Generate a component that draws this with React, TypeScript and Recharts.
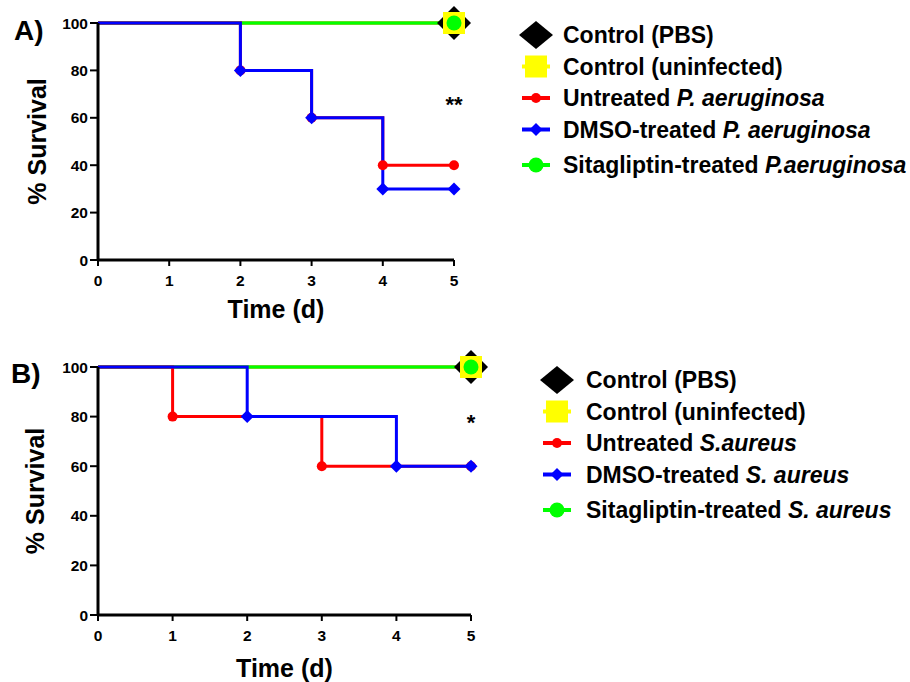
import React from 'react';
import { ComposedChart, Line, XAxis, YAxis, ReferenceDot, Label } from 'recharts';

const FONT = '"Liberation Sans", Arial, sans-serif';

const dayTicks = [0, 1, 2, 3, 4, 5];
const survivalTicks = [0, 20, 40, 60, 80, 100];

// panel A: P. aeruginosa
const paControlDays = [0, 5];
const paControlSurvival = [100, 100];
const paUntreatedDays = [0, 2, 3, 4, 5];
const paUntreatedSurvival = [100, 80, 60, 40, 40];
const paDmsoDays = [0, 2, 3, 4, 5];
const paDmsoSurvival = [100, 80, 60, 30, 30];
const paSitaDays = [0, 5];
const paSitaSurvival = [100, 100];

// panel B: S. aureus
const saControlDays = [0, 5];
const saControlSurvival = [100, 100];
const saUntreatedDays = [0, 1, 3, 5];
const saUntreatedSurvival = [100, 80, 60, 60];
const saDmsoDays = [0, 2, 4, 5];
const saDmsoSurvival = [100, 80, 60, 60];
const saSitaDays = [0, 5];
const saSitaSurvival = [100, 100];

const paLegend = [
  ['Control (PBS)', ''],
  ['Control (uninfected)', ''],
  ['Untreated ', 'P. aeruginosa'],
  ['DMSO-treated ', 'P. aeruginosa'],
  ['Sitagliptin-treated ', 'P.aeruginosa'],
];
const saLegend = [
  ['Control (PBS)', ''],
  ['Control (uninfected)', ''],
  ['Untreated ', 'S.aureus'],
  ['DMSO-treated ', 'S. aureus'],
  ['Sitagliptin-treated ', 'S. aureus'],
];

// significance marks drawn at day 5
const paStars = { label: '**', survival: 68 };
const saStars = { label: '*', survival: 80 };

const kinds = ['pbs', 'uninfected', 'untreated', 'dmso', 'sita'];
const colors: Record<string, string> = {
  pbs: '#000000',
  uninfected: '#FFFF00',
  untreated: '#FF0000',
  dmso: '#0000FF',
  sita: '#00FF00',
};

const toPoints = (days: number[], surv: number[]) =>
  days.map((d, i) => ({ day: d, survival: surv[i] }));

function Marker({ kind, cx, cy, legend }: { kind: string; cx: number; cy: number; legend?: boolean }) {
  const c = colors[kind];
  if (kind === 'pbs') {
    const w = 17;
    const h = legend ? 14 : 17;
    return <polygon points={`${cx},${cy - h} ${cx + w},${cy} ${cx},${cy + h} ${cx - w},${cy}`} fill={c} />;
  }
  if (kind === 'uninfected') {
    return <rect x={cx - 11} y={cy - 11} width={22} height={22} fill={c} />;
  }
  if (kind === 'untreated') return <circle cx={cx} cy={cy} r={5} fill={c} />;
  if (kind === 'dmso') {
    const s = 6.5;
    return <polygon points={`${cx},${cy - s} ${cx + s},${cy} ${cx},${cy + s} ${cx - s},${cy}`} fill={c} />;
  }
  return <circle cx={cx} cy={cy} r={7.5} fill={c} />;
}

const makeDot = (kind: string) => (props: any) => {
  const { cx, cy, index } = props;
  if (index === 0 || cx == null || cy == null) return <g key={`${kind}-${index}`} />;
  return (
    <g key={`${kind}-${index}`}>
      <Marker kind={kind} cx={cx} cy={cy} />
    </g>
  );
};

const XTick = (p: any) => (
  <text x={p.x} y={p.y} dy="0.71em" textAnchor="middle" fontFamily={FONT} fontWeight="bold" fontSize={15.5} fill="#000">
    {p.payload.value}
  </text>
);

const YTick = (p: any) => (
  <text x={p.x} y={p.y} dy="0.36em" textAnchor="end" fontFamily={FONT} fontWeight="bold" fontSize={15.5} fill="#000">
    {p.payload.value}
  </text>
);

interface PanelProps {
  series: Record<string, { day: number; survival: number }[]>;
  width: number;
  height: number;
  margin: { top: number; right: number; left: number; bottom: number };
  xAxisHeight: number;
  xTitleOffset: number;
  yTitleX: number;
  stars: { label: string; survival: number };
}

function SurvivalPanel({ series, width, height, margin, xAxisHeight, xTitleOffset, yTitleX, stars }: PanelProps) {
  const order = ['pbs', 'uninfected', 'sita', 'untreated', 'dmso'];
  return (
    <ComposedChart width={width} height={height} margin={margin}>
      <XAxis
        dataKey="day"
        type="number"
        domain={[0, 5]}
        ticks={dayTicks}
        interval={0}
        height={xAxisHeight}
        tickSize={6}
        tickMargin={9}
        axisLine={{ stroke: '#000', strokeWidth: 3 }}
        tickLine={{ stroke: '#000', strokeWidth: 2 }}
        tick={XTick}
      >
        <Label
          content={(p: any) => {
            const vb = p.viewBox;
            return (
              <text
                x={vb.x + vb.width / 2}
                y={vb.y + xTitleOffset}
                textAnchor="middle"
                fontFamily={FONT}
                fontWeight="bold"
                fontSize={25}
                fill="#000"
              >
                Time (d)
              </text>
            );
          }}
        />
      </XAxis>
      <YAxis
        dataKey="survival"
        type="number"
        domain={[0, 100]}
        ticks={survivalTicks}
        interval={0}
        width={98}
        tickSize={8}
        tickMargin={2}
        axisLine={{ stroke: '#000', strokeWidth: 3 }}
        tickLine={{ stroke: '#000', strokeWidth: 2 }}
        tick={YTick}
      >
        <Label
          content={(p: any) => {
            const vb = p.viewBox;
            const x = vb.x + yTitleX;
            const y = vb.y + vb.height / 2;
            return (
              <text
                x={x}
                y={y}
                transform={`rotate(-90, ${x}, ${y})`}
                textAnchor="middle"
                fontFamily={FONT}
                fontWeight="bold"
                fontSize={25}
                fill="#000"
              >
                % Survival
              </text>
            );
          }}
        />
      </YAxis>
      {order.map((k) => (
        <Line
          key={k}
          data={series[k]}
          dataKey="survival"
          type="stepAfter"
          stroke={colors[k]}
          strokeWidth={3}
          dot={makeDot(k)}
          activeDot={false}
          isAnimationActive={false}
        />
      ))}
      <ReferenceDot
        x={5}
        y={stars.survival}
        r={0}
        shape={(p: any) => (
          <text
            x={p.cx}
            y={p.cy + 13}
            textAnchor="middle"
            fontFamily={FONT}
            fontWeight="bold"
            fontSize={22}
            fill="#000"
          >
            {stars.label}
          </text>
        )}
      />
    </ComposedChart>
  );
}

function LegendBlock({ items, markerX, textX, top }: { items: string[][]; markerX: number; textX: number; top: number }) {
  return (
    <g>
      {items.map((it, i) => {
        const y = top + i * 31.5 + (i === 4 ? 4 : 0);
        const k = kinds[i];
        return (
          <g key={i}>
            {k !== 'pbs' && (
              <line x1={markerX - 14} x2={markerX + 14} y1={y} y2={y} stroke={colors[k]} strokeWidth={4} />
            )}
            <Marker kind={k} cx={markerX} cy={y} legend />
            <text x={textX} y={y + 8} fontFamily={FONT} fontWeight="bold" fontSize={23} fill="#000">
              {it[0]}
              {it[1] && <tspan fontStyle="italic">{it[1]}</tspan>}
            </text>
          </g>
        );
      })}
    </g>
  );
}

export default function App() {
  const paSeries = {
    pbs: toPoints(paControlDays, paControlSurvival),
    uninfected: toPoints(paControlDays, paControlSurvival),
    untreated: toPoints(paUntreatedDays, paUntreatedSurvival),
    dmso: toPoints(paDmsoDays, paDmsoSurvival),
    sita: toPoints(paSitaDays, paSitaSurvival),
  };
  const saSeries = {
    pbs: toPoints(saControlDays, saControlSurvival),
    uninfected: toPoints(saControlDays, saControlSurvival),
    untreated: toPoints(saUntreatedDays, saUntreatedSurvival),
    dmso: toPoints(saDmsoDays, saDmsoSurvival),
    sita: toPoints(saSitaDays, saSitaSurvival),
  };

  return (
    <div style={{ position: 'absolute', left: 0, top: 0, width: 910, height: 682, background: '#fff', overflow: 'hidden' }}>
      <div style={{ position: 'absolute', left: 0, top: 0 }}>
        <SurvivalPanel
          series={paSeries}
          width={480}
          height={330}
          margin={{ top: 23, right: 26, left: 0, bottom: 0 }}
          xAxisHeight={70}
          xTitleOffset={58}
          yTitleX={46}
          stars={paStars}
        />
      </div>
      <div style={{ position: 'absolute', left: 0, top: 340 }}>
        <SurvivalPanel
          series={saSeries}
          width={500}
          height={342}
          margin={{ top: 27, right: 29, left: 0, bottom: 0 }}
          xAxisHeight={67}
          xTitleOffset={62}
          yTitleX={44}
          stars={saStars}
        />
      </div>
      <svg width={910} height={682} style={{ position: 'absolute', left: 0, top: 0, pointerEvents: 'none' }}>
        <text x={14} y={40} fontFamily={FONT} fontWeight="bold" fontSize={28} fill="#000">A)</text>
        <text x={11} y={383} fontFamily={FONT} fontWeight="bold" fontSize={28} fill="#000">B)</text>
        <LegendBlock items={paLegend} markerX={536} textX={563} top={35} />
        <LegendBlock items={saLegend} markerX={557} textX={586} top={380} />
      </svg>
    </div>
  );
}
